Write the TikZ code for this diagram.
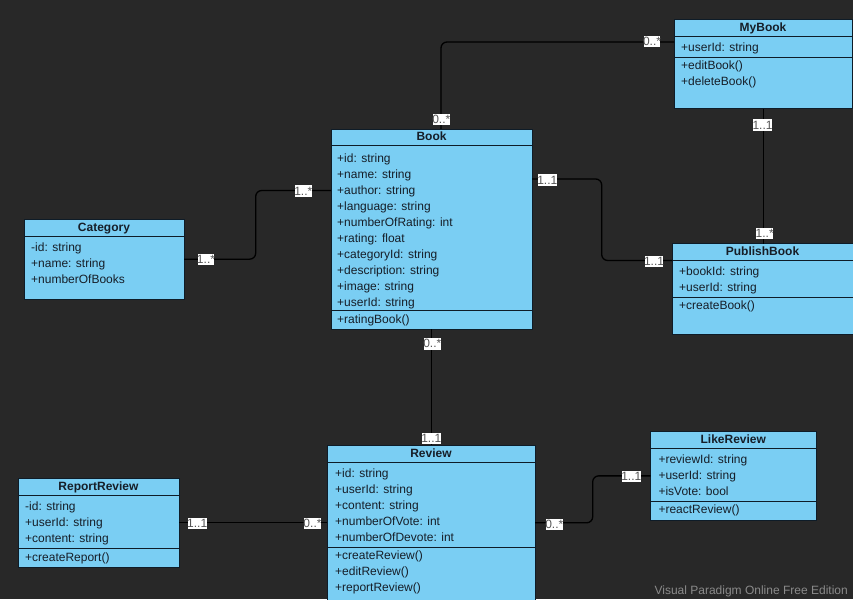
\documentclass[tikz,border=0pt]{standalone}
\usepackage{fontspec}
\setmainfont{Liberation Sans}
\usetikzlibrary{calc}
\definecolor{canvas}{RGB}{40,40,40}
\definecolor{classfill}{RGB}{122,206,243}
\definecolor{classline}{RGB}{14,28,40}
\definecolor{classtext}{RGB}{22,30,40}
\definecolor{multtext}{RGB}{85,85,85}
\definecolor{markgray}{RGB}{138,138,138}
\begin{document}
\begin{tikzpicture}[x=1pt,y=-1pt,
  classbox/.style={draw=classline, fill=classfill, line width=1pt, inner sep=0pt, outer sep=0pt, anchor=north west},
  title/.style={font=\bfseries\fontsize{12}{14}\selectfont, text=classtext, anchor=base, inner sep=0pt},
  member/.style={font=\fontsize{12}{14}\selectfont, text=classtext, anchor=base west, inner sep=0pt},
  sep/.style={draw=classline, line width=1pt},
  assoc/.style={draw=black, line width=1.3pt, rounded corners=6pt},
  mult/.style={fill=white, text=multtext, font=\fontsize{12}{14}\selectfont, inner xsep=-0.6pt, inner ysep=1pt, text height=8.7pt, text depth=0.7pt}]

% canvas
\clip (0,0) rectangle (853,599);
\fill[canvas] (0,0) rectangle (853,599);

% ---------- class boxes ----------
\node[classbox, minimum width=178.5pt, minimum height=88.7pt] (mybook) at (674,20) {};
\node[classbox, minimum width=201pt, minimum height=200pt] (book) at (331,129) {};
\node[classbox, minimum width=160pt, minimum height=79.7pt] (category) at (24,219.3) {};
\node[classbox, minimum width=182pt, minimum height=90.3pt] (publish) at (672.3,243.7) {};
\node[classbox, minimum width=207.7pt, minimum height=170pt] (review) at (327.3,445.3) {};
\node[classbox, minimum width=161pt, minimum height=89pt] (report) at (18.3,478.3) {};
\node[classbox, minimum width=165.3pt, minimum height=88.3pt] (like) at (650.7,431.7) {};

% compartment separators
\draw[sep] (mybook.west |- 0,36.7) -- (mybook.east |- 0,36.7);
\draw[sep] (mybook.west |- 0,57.3) -- (mybook.east |- 0,57.3);
\draw[sep] (book.west |- 0,145.3) -- (book.east |- 0,145.3);
\draw[sep] (book.west |- 0,310.3) -- (book.east |- 0,310.3);
\draw[sep] (category.west |- 0,236.7) -- (category.east |- 0,236.7);
\draw[sep] (publish.west |- 0,260.3) -- (publish.east |- 0,260.3);
\draw[sep] (publish.west |- 0,297.3) -- (publish.east |- 0,297.3);
\draw[sep] (review.west |- 0,462.7) -- (review.east |- 0,462.7);
\draw[sep] (review.west |- 0,547.3) -- (review.east |- 0,547.3);
\draw[sep] (report.west |- 0,495) -- (report.east |- 0,495);
\draw[sep] (report.west |- 0,548.7) -- (report.east |- 0,548.7);
\draw[sep] (like.west |- 0,448.7) -- (like.east |- 0,448.7);
\draw[sep] (like.west |- 0,501.3) -- (like.east |- 0,501.3);

% ---------- class names ----------
\node[title] (mybook-t) at (763,31.3) {MyBook};
\node[title] (book-t) at (431.5,140) {Book};
\node[title] (category-t) at (104,231) {Category};
\node[title] (publish-t) at (762.5,255) {PublishBook};
\node[title] (review-t) at (431,457) {Review};
\node[title] (report-t) at (98.5,490) {ReportReview};
\node[title] (like-t) at (733.3,443) {LikeReview};

% ---------- members ----------
\foreach \m [count=\i] in {+userId: string}
  \node[member] (mybook-a\i) at (681,51.7+16*\i-16) {\m};
\foreach \m [count=\i] in {+editBook(), +deleteBook()}
  \node[member] (mybook-o\i) at (681,69.7+16*\i-16) {\m};

\foreach \m [count=\i] in {+id: string, +name: string, +author: string, +language: string,
    +numberOfRating: int, +rating: float, +categoryId: string, +description: string,
    +image: string, +userId: string}
  \node[member] (book-a\i) at (337,162.4+16*\i-16) {\m};
\node[member] (book-o1) at (337,323.7) {+ratingBook()};

\foreach \m [count=\i] in {-id: string, +name: string, +numberOfBooks}
  \node[member] (category-a\i) at (31,251+16.3*\i-16.3) {\m};

\foreach \m [count=\i] in {+bookId: string, +userId: string}
  \node[member] (publish-a\i) at (679,275.7+16*\i-16) {\m};
\node[member] (publish-o1) at (679,309.4) {+createBook()};

\foreach \m [count=\i] in {+id: string, +userId: string, +content: string,
    +numberOfVote: int, +numberOfDevote: int}
  \node[member] (review-a\i) at (335,477.4+16*\i-16) {\m};
\foreach \m [count=\i] in {+createReview(), +editReview(), +reportReview()}
  \node[member] (review-o\i) at (335,559.7+15.9*\i-15.9) {\m};

\foreach \m [count=\i] in {-id: string, +userId: string, +content: string}
  \node[member] (report-a\i) at (25,510.4+16.2*\i-16.2) {\m};
\node[member] (report-o1) at (25,561) {+createReport()};

\foreach \m [count=\i] in {+reviewId: string, +userId: string, +isVote: bool}
  \node[member] (like-a\i) at (658.3,463+16.4*\i-16.4) {\m};
\node[member] (like-o1) at (658.3,513.7) {+reactReview()};

% ---------- associations ----------
\draw[assoc] ($(book.north west)+(110,0)$) |- ($(mybook.north west)+(0,22)$);
\draw[assoc] (mybook.south) -- (mybook.south |- publish.north);
\draw[assoc] (category.east) -- ++(71.7,0) |- ($(book.north west)+(0,61.5)$);
\draw[assoc] ($(book.north east)+(0,50)$) -- ++(69.7,0) |- ($(publish.north west)+(0,16.8)$);
\draw[assoc] (book.south) -- (book.south |- review.north);
\draw[assoc] (report.east) -- (report.east -| review.west);
\draw[assoc] ($(review.north east)+(0,77.5)$) -- ++(57.7,0) |- (like.west);

% ---------- multiplicities ----------
\node[mult] (m-mybook-book) at (652,41.5) {0..*};
\node[mult] (m-book-mybook) at (441.3,119.3) {0..*};
\node[mult] (m-mybook-publish) at (762.5,125) {1..1};
\node[mult] (m-publish-mybook) at (764.7,233.7) {1..*};
\node[mult] (m-book-publish) at (547.3,180) {1..1};
\node[mult] (m-publish-book) at (654,261.3) {1..1};
\node[mult] (m-category-book) at (206,259.5) {1..*};
\node[mult] (m-book-category) at (303.3,191) {1..*};
\node[mult] (m-book-review) at (432.3,343.8) {0..*};
\node[mult] (m-review-book) at (431.3,438.7) {1..1};
\node[mult] (m-report-review) at (197.2,523.3) {1..1};
\node[mult] (m-review-report) at (312.5,523.3) {0..*};
\node[mult] (m-review-like) at (554.3,524.7) {0..*};
\node[mult] (m-like-review) at (631.3,476.7) {1..1};

% watermark
\node[font=\fontsize{12}{14}\selectfont, text=markgray, anchor=base east, inner sep=0pt] (mark) at (848,594) {Visual Paradigm Online Free Edition};
\end{tikzpicture}
\end{document}
